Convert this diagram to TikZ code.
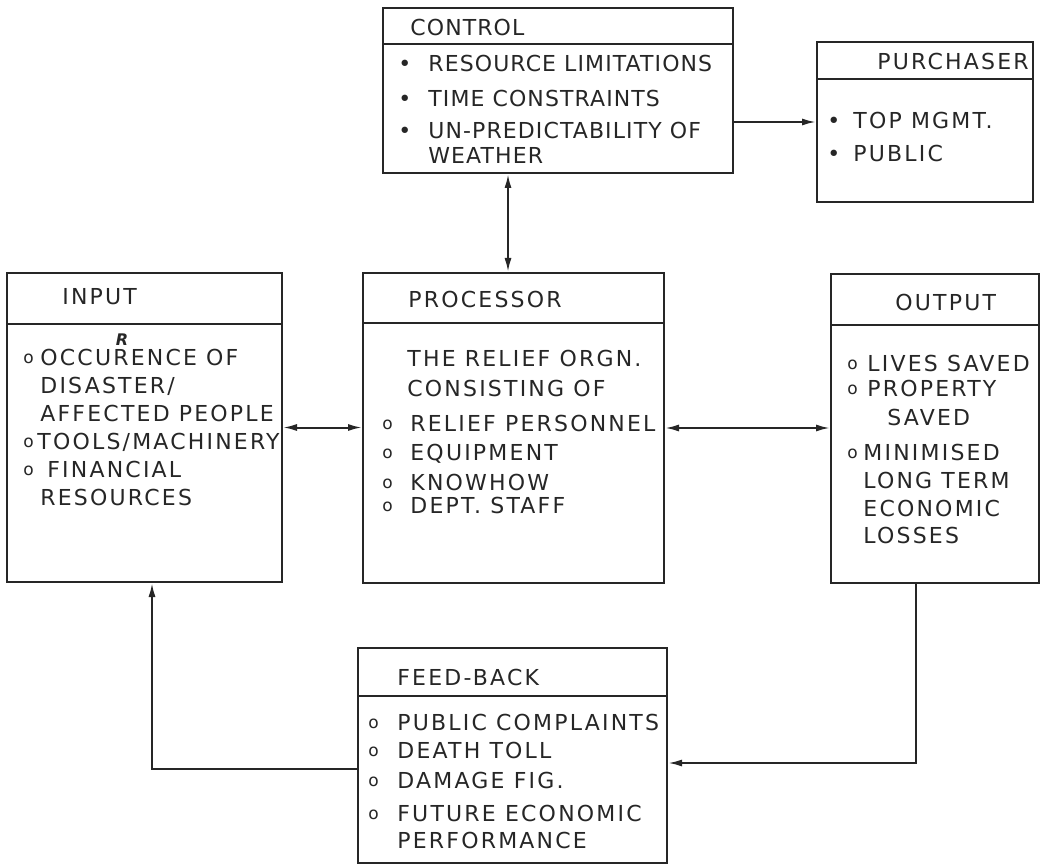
\documentclass[tikz,border=0pt]{standalone}
\usepackage{fontspec}
\setmainfont{DejaVu Sans}[LetterSpace=10]
\usepackage{tikz}
\usetikzlibrary{arrows.meta, positioning}
\colorlet{ink}{black!85}
\tikzstyle{link} = [draw=ink, -{Latex[length=7pt,width=3.5pt]}, line width=1pt]
\tikzstyle{duplex} = [draw=ink, {Latex[length=7pt,width=3.5pt]}-{Latex[length=7pt,width=3.5pt]}, line width=1pt]
% open and filled bullets, with the width of the gap after them
\newcommand{\ob}[1]{\makebox[#1][l]{\raisebox{1.2pt}{\fontsize{8.5}{8.5}\selectfont o}}}
\newcommand{\fb}[1]{\makebox[#1][l]{\textbullet}}

\begin{document}
\begin{tikzpicture}[x=0.5pt,y=-0.5pt]
  \tikzset{
    block/.style={
      rectangle,
      draw=ink,
      line width=1pt,
      inner sep=0pt
    },
    title/.style={
      anchor=base west,
      inner sep=0pt,
      text=ink,
      font=\fontsize{11}{14}\selectfont
    },
    body/.style={
      anchor=north west,
      inner sep=0pt,
      align=left,
      text=ink,
      font=\fontsize{11}{14}\selectfont
    }
  }
  \useasboundingbox (0,0) rectangle (1042,865);

  % the six blocks
  \node[block, minimum width=175pt, minimum height=82.5pt] (control) at (558,90.5) {};
  \node[block, minimum width=108pt, minimum height=80pt] (purch) at (925,122) {};
  \node[block, minimum width=137.5pt, minimum height=154.5pt] (input) at (144.5,427.5) {};
  \node[block, minimum width=150.5pt, minimum height=155pt] (proc) at (513.5,428) {};
  \node[block, minimum width=104pt, minimum height=154.5pt] (output) at (935,428.5) {};
  \node[block, minimum width=154.5pt, minimum height=107.5pt] (feedb) at (512.5,755.5) {};

  % header rules
  \draw[ink, line width=1pt] ([yshift=-18.5pt]control.north west) -- ([yshift=-18.5pt]control.north east);
  \draw[ink, line width=1pt] ([yshift=-19pt]purch.north west) -- ([yshift=-19pt]purch.north east);
  \draw[ink, line width=1pt] ([yshift=-26pt]input.north west) -- ([yshift=-26pt]input.north east);
  \draw[ink, line width=1pt] ([yshift=-25.5pt]proc.north west) -- ([yshift=-25.5pt]proc.north east);
  \draw[ink, line width=1pt] ([yshift=-26pt]output.north west) -- ([yshift=-26pt]output.north east);
  \draw[ink, line width=1pt] ([yshift=-24.5pt]feedb.north west) -- ([yshift=-24.5pt]feedb.north east);

  % titles
  \node[title, font=\fontsize{11}{14}\selectfont\addfontfeatures{LetterSpace=5}] (controltitle) at (410,36) {CONTROL};
  \node[title] (purchtitle) at (877,70) {PURCHASER};
  \node[title] (inputtitle) at (62,305) {INPUT};
  \node[title] (proctitle) at (408,308) {PROCESSOR};
  \node[title] (outputtitle) at (895,311) {OUTPUT};
  \node[title] (feedbtitle) at (397,685) {FEED-BACK};

  % contents
  \node[body, font=\fontsize{11}{14}\selectfont\addfontfeatures{LetterSpace=5}] (controltext) at (398,55) {%
    \fb{15pt}RESOURCE LIMITATIONS\\[3.5pt]
    \fb{15pt}TIME CONSTRAINTS\\[2pt]
    \fb{15pt}UN-PREDICTABILITY OF\\[-1.5pt]
    \hspace*{15pt}WEATHER};
  \node[body] (purchtext) at (827,112) {%
    \fb{13pt}TOP MGMT.\\[2.5pt]
    \fb{13pt}PUBLIC};
  \node[body] (inputtext) at (23,349) {%
    \ob{8.5pt}OCCURENCE OF\\
    \hspace*{8.5pt}DISASTER/\\
    \hspace*{8.5pt}AFFECTED PEOPLE\\
    \ob{7pt}TOOLS/MACHINERY\\
    \ob{12pt}FINANCIAL\\
    \hspace*{8.5pt}RESOURCES};
  \node[font=\fontsize{8}{8}\selectfont\bfseries\itshape, text=ink, inner sep=0pt] (mark) at (122,340) {R};
  \node[body] (proctext) at (382,350) {%
    \hspace*{12.5pt}THE RELIEF ORGN.\\[1pt]
    \hspace*{12.5pt}CONSISTING OF\\[3.5pt]
    \ob{14pt}RELIEF PERSONNEL\\[0.5pt]
    \ob{14pt}EQUIPMENT\\[1pt]
    \ob{14pt}KNOWHOW\\[-2.5pt]
    \ob{14pt}DEPT. STAFF};
  \node[body] (outputtext) at (847,355) {%
    \ob{10pt}LIVES SAVED\\[-1.5pt]
    \ob{10pt}PROPERTY\\[0.5pt]
    \hspace*{20pt}SAVED\\[3.5pt]
    \ob{8pt}MINIMISED\\
    \hspace*{8pt}LONG TERM\\
    \hspace*{8pt}ECONOMIC\\[-0.5pt]
    \hspace*{8pt}LOSSES};
  \node[body] (feedbtext) at (368,714) {%
    \ob{14.5pt}PUBLIC COMPLAINTS\\
    \ob{14.5pt}DEATH TOLL\\[1pt]
    \ob{14.5pt}DAMAGE FIG.\\[2.5pt]
    \ob{14.5pt}FUTURE ECONOMIC\\[-0.5pt]
    \hspace*{14.5pt}PERFORMANCE};

  % connectors
  \path[duplex] ([xshift=-2.75pt]proc.north) -- ([xshift=-2.75pt]proc.north |- control.south);
  \path[link] (purch.west -| control.east) -- (purch.west);
  \path[duplex] (input.east) -- (input.east -| proc.west);
  \path[duplex] (proc.east) -- (proc.east -| output.west);
  \path[link] ([xshift=-9.5pt]output.south) |- ([yshift=-3.75pt]feedb.east);
  \path[link] ([yshift=-6.75pt]feedb.west) -| ([xshift=3.75pt]input.south);

\end{tikzpicture}
\end{document}
